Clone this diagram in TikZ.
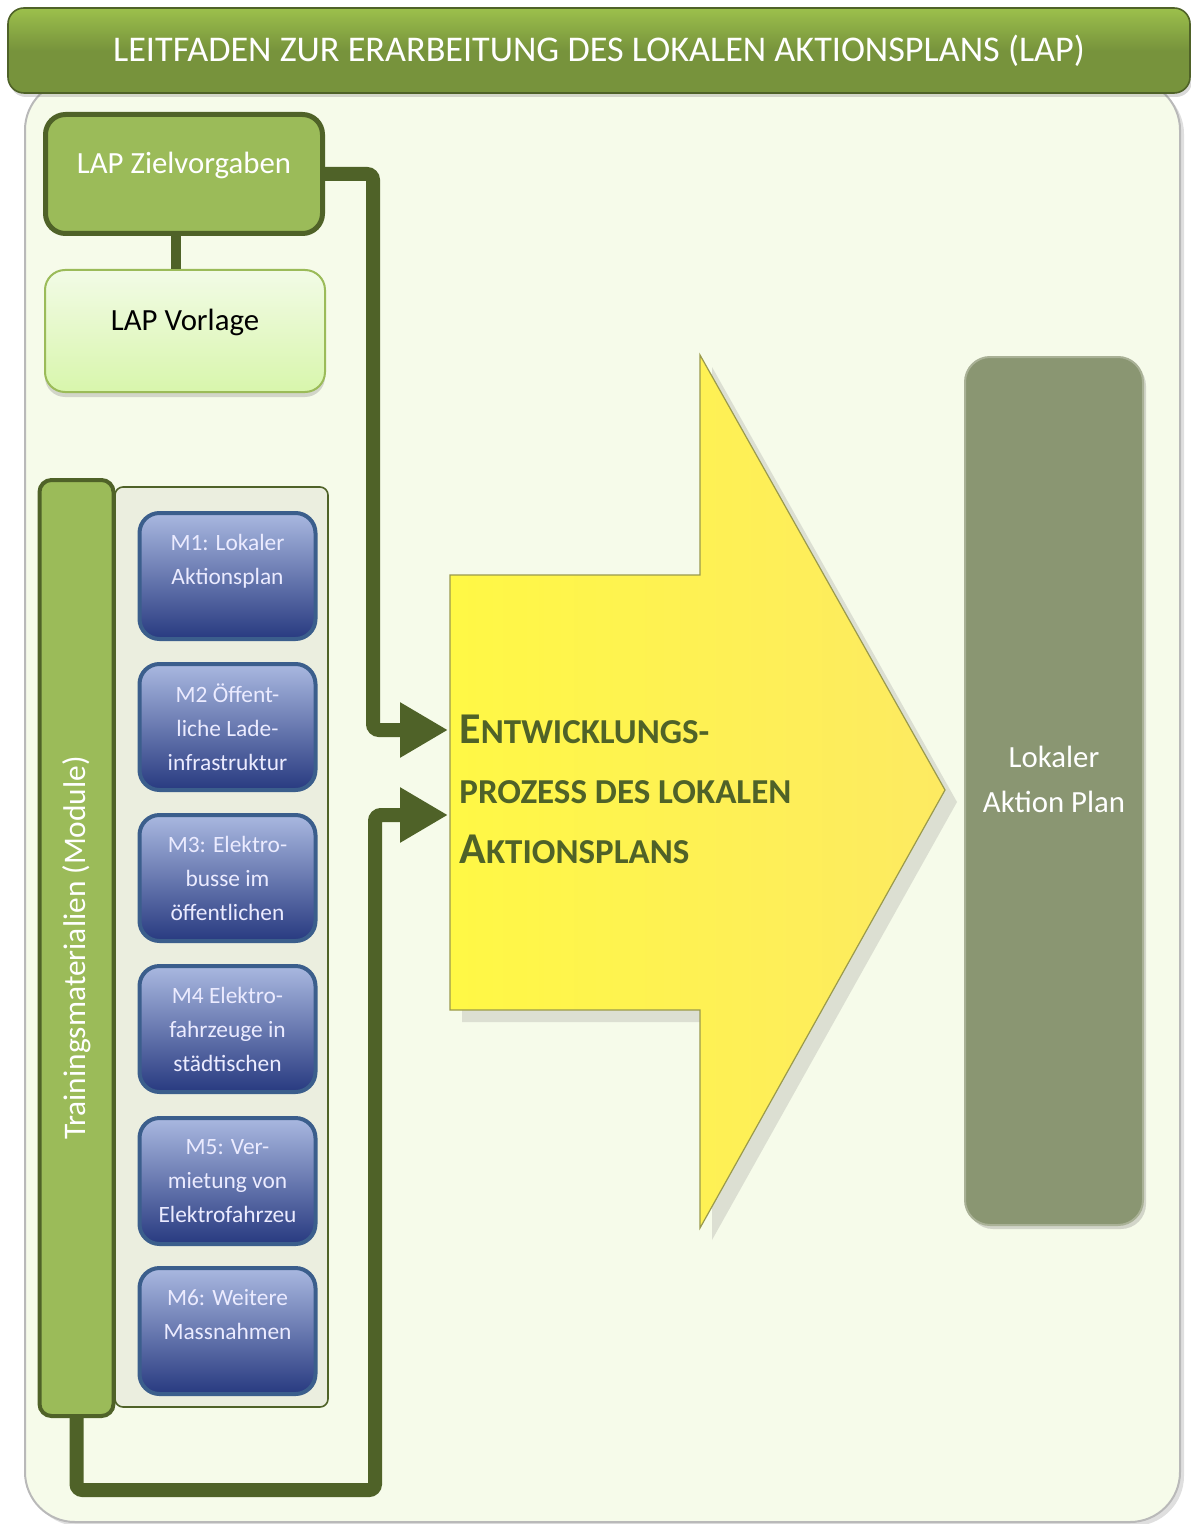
\documentclass[tikz,border=0pt]{standalone}
\usepackage{fontspec}
\setmainfont{Carlito}
\usepackage{tikz}
\usetikzlibrary{arrows.meta,positioning,calc,shadows}

\definecolor{leafdark}{HTML}{4F6228}
\definecolor{leaf}{HTML}{9BBB59}
\definecolor{leaftitle}{HTML}{77933C}
\definecolor{leaftop}{HTML}{9CC04C}
\definecolor{panelbg}{HTML}{F6FBEA}
\definecolor{vorltop}{HTML}{F2FBE6}
\definecolor{vorlbot}{HTML}{D8F6AC}
\definecolor{modfill}{HTML}{EBEEDF}
\definecolor{modtop}{HTML}{A9B8E0}
\definecolor{modbot}{HTML}{283A80}
\definecolor{modline}{HTML}{3B5E8C}
\definecolor{arrowleft}{HTML}{FFF845}
\definecolor{arrowright}{HTML}{FDEA62}
\definecolor{arrowline}{HTML}{9A9A4C}
\definecolor{planfill}{HTML}{8A9672}
\definecolor{planline}{HTML}{A9B196}

\newcommand{\scinit}[1]{{\fontsize{22}{30}\selectfont #1}}

\begin{document}
\begin{tikzpicture}[
  x=0.5pt, y=-0.5pt,
  font=\fontsize{15.4}{22}\selectfont,
  panel/.style={draw=gray!55, line width=1pt, fill=panelbg, rounded corners=25pt,
    minimum width=577.5pt, minimum height=721pt,
    drop shadow={opacity=0.25, shadow xshift=2pt, shadow yshift=-2pt}},
  titlebar/.style={draw=leafdark, line width=0.8pt, rounded corners=8pt,
    top color=leaftop, bottom color=leaftitle, middle color=leaftitle,
    minimum width=591pt, minimum height=42.5pt, text=white,
    font=\fontsize{18.1}{22}\selectfont,
    drop shadow={opacity=0.3, shadow xshift=1pt, shadow yshift=-2pt}},
  goal/.style={draw=leafdark, line width=2.5pt, fill=leaf, rounded corners=10pt,
    minimum width=138.5pt, minimum height=59.5pt, text=white,
    text height=9pt, text depth=9pt},
  templ/.style={draw=leaf, line width=1pt, top color=vorltop, bottom color=vorlbot,
    rounded corners=10pt, minimum width=140pt, minimum height=61pt,
    text height=9pt, text depth=9pt,
    drop shadow={opacity=0.3, shadow xshift=0pt, shadow yshift=-2.5pt}},
  sidebar/.style={draw=leafdark, line width=2pt, fill=leaf, rounded corners=6pt,
    minimum width=37pt, minimum height=468pt, text=white},
  modframe/.style={draw=leafdark, line width=0.8pt, fill=modfill, rounded corners=4pt,
    minimum width=106.5pt, minimum height=460pt},
  module/.style={draw=modline, line width=2pt, rounded corners=10pt,
    top color=modtop, bottom color=modbot, text=white!92!blue,
    minimum width=88pt, minimum height=63pt, align=center, inner sep=1pt,
    font=\fontsize{11.7}{17}\selectfont},
  plan/.style={draw=planline, line width=1pt, fill=planfill, rounded corners=12.5pt,
    minimum width=89pt, minimum height=434pt,
    drop shadow={opacity=0.3, shadow xshift=1.5pt, shadow yshift=-2pt}},
  bigarrow/.style={draw=arrowline, line width=0.6pt,
    left color=arrowleft, right color=arrowright,
    drop shadow={opacity=0.22, shadow xshift=6pt, shadow yshift=-6pt}},
  conn/.style={draw=leafdark, line width=7pt, rounded corners=3pt,
    -{Triangle[length=24pt, width=26pt]}},
  link/.style={draw=leafdark, line width=5pt}
]
\useasboundingbox (0,0) rectangle (1190,1524);

\node[panel] (panel) at (602.5,801) {};
\node[titlebar] (title) at (599,50.5) {LEITFADEN ZUR ERARBEITUNG DES LOKALEN AKTIONSPLANS (LAP)};

\node[goal] (ziel) at (184,174) {LAP Zielvorgaben};
\node[templ] (vorlage) at (185,331) {LAP Vorlage};
\draw[link] ([xshift=-4pt]ziel.south) -- ([xshift=-4pt]ziel.south |- vorlage.north);

\node[modframe] (frame) at (221.5,947) {};
\node[sidebar] (train) at (76.5,948) {};
\node[rotate=90, text=white, font=\fontsize{15.7}{22}\selectfont] (trainlab) at (train.center)
  {Trainingsmaterialien (Module)};

\node[module] (m1) at (227.5,576) {M1: Lokaler\\Aktionsplan\\~};
\node[module] (m2) at (227.5,727) {M2 Öffent-\\liche Lade-\\infrastruktur};
\node[module] (m3) at (227.5,878) {M3: Elektro-\\busse im\\öffentlichen};
\node[module] (m4) at (227.5,1029) {M4 Elektro-\\fahrzeuge in\\städtischen};
\node[module] (m5) at (227.5,1181) {M5: Ver-\\mietung von\\Elektrofahrzeu};
\node[module] (m6) at (227.5,1331) {M6: Weitere\\Massnahmen\\~};

\path[bigarrow] (450,575) -- (700,575) -- (700,355) -- (945,790) -- (700,1228)
  -- (700,1010) -- (450,1010) -- cycle;
\node[anchor=west, align=left, inner sep=0pt, text=leafdark,
  font=\bfseries\fontsize{17.5}{30}\selectfont]
  (prozess) at (459,789) {\scinit{E}NTWICKLUNGS-\\PROZESS DES LOKALEN\\\scinit{A}KTIONSPLANS};
\coordinate (in1) at (448,730);
\coordinate (in2) at (448,815);

\node[plan] (plan) at (1054,791) {};
\node[text=white, align=center, font=\fontsize{15.4}{22.5}\selectfont] (planlab)
  at ([yshift=6pt]plan.center) {Lokaler\\Aktion Plan};

\draw[conn] (ziel.east) -| ([xshift=-37.5pt]in1) -- (in1);
\draw[conn] (train.south) -- ++(0,72) -| ([xshift=-36.5pt]in2) -- (in2);
\end{tikzpicture}
\end{document}
